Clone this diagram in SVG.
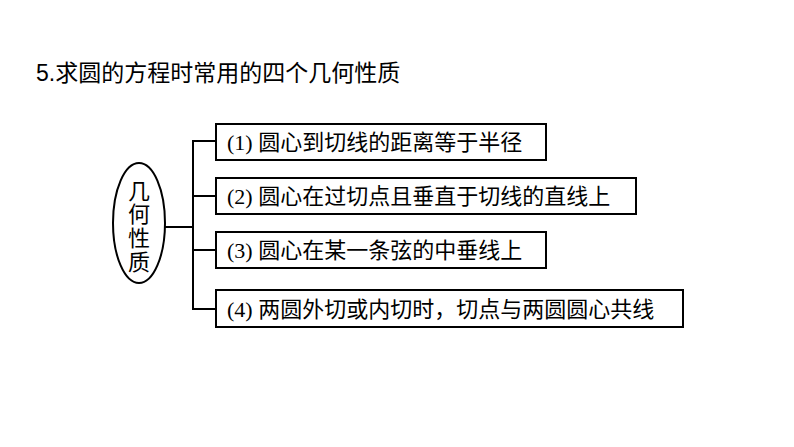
<svg xmlns="http://www.w3.org/2000/svg" width="794" height="447" viewBox="0 0 794 447">
<style>
text{font-family:"Liberation Serif","Noto Sans CJK SC",serif;font-size:22px;fill:#000}
.b{fill:#fff;stroke:#000;stroke-width:2}
.c{fill:none;stroke:#000;stroke-width:2}
</style>
<rect width="794" height="447" fill="#fff"/>
<text x="36" y="81" style="font-family:'Liberation Sans','Noto Sans CJK SC',sans-serif;font-size:23px">5.求圆的方程时常用的四个几何性质</text>
<g id="connectors">
<path class="c" d="M164 227H193M216 141H193V309H216M193 196H216M193 250H216"/>
</g>
<g id="root"><ellipse class="b" cx="139" cy="223" rx="26" ry="60"/>
<g style="font-size:23px"><text x="139" y="199" text-anchor="middle">几</text><text x="139" y="222" text-anchor="middle">何</text><text x="139" y="246" text-anchor="middle">性</text><text x="139" y="270" text-anchor="middle">质</text></g></g>
<g id="n1"><rect class="b" x="216" y="124" width="330" height="36"/><text x="227" y="150">(1) 圆心到切线的距离等于半径</text></g>
<g id="n2"><rect class="b" x="216" y="178" width="420" height="36"/><text x="227" y="204">(2) 圆心在过切点且垂直于切线的直线上</text></g>
<g id="n3"><rect class="b" x="216" y="232" width="330" height="36"/><text x="227" y="258">(3) 圆心在某一条弦的中垂线上</text></g>
<g id="n4"><rect class="b" x="216" y="290" width="467" height="37"/><text x="227" y="317">(4) 两圆外切或内切时，切点与两圆圆心共线</text></g>
</svg>
